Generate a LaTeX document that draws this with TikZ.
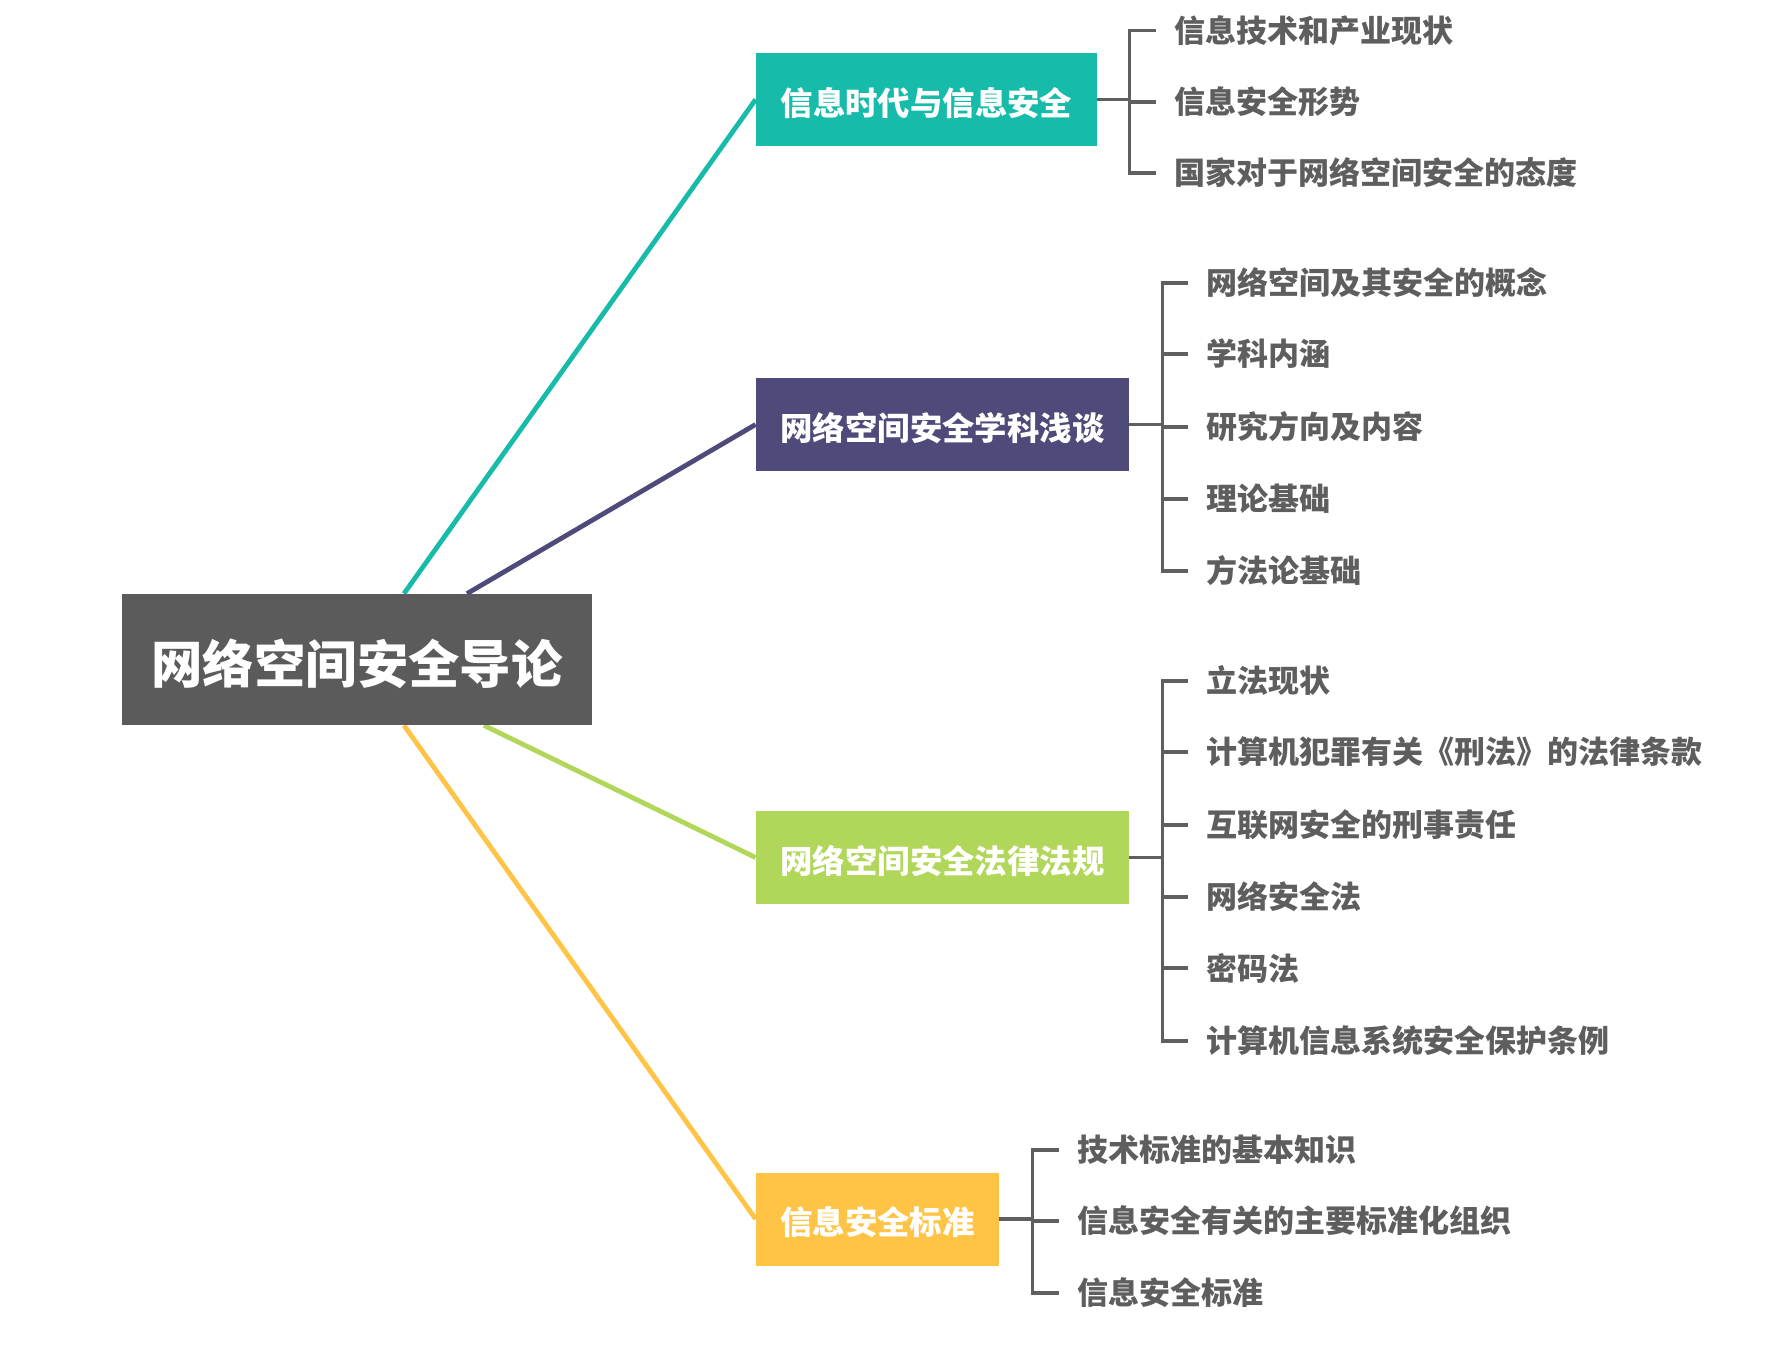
\documentclass[tikz,border=0pt]{standalone}
\usepackage{fontspec}
\setmainfont{Noto Sans CJK SC}
\usetikzlibrary{calc}
\definecolor{cteal}{HTML}{17BBAA}
\definecolor{cpurple}{HTML}{4E4A7A}
\definecolor{cgreen}{HTML}{B1D75A}
\definecolor{cyellow}{HTML}{FFC445}
\definecolor{croot}{HTML}{5B5B5B}
\definecolor{ctext}{HTML}{5E5E5E}
\definecolor{cline}{HTML}{5F5F5F}
\tikzset{
  rootbox/.style={rectangle, fill=croot, text=white, inner sep=0pt,
    minimum width=235pt, minimum height=65.5pt, text height=24pt, text depth=0pt,
    font=\fontsize{25.7}{30}\selectfont\bfseries},
  topicbox/.style={rectangle, text=white, inner sep=0pt, minimum height=46.5pt,
    text height=15.8pt, text depth=0pt,
    font=\fontsize{16.2}{19}\selectfont\bfseries},
  leaf/.style={anchor=west, inner sep=0pt, text=ctext,
    font=\fontsize{15.5}{18}\selectfont\bfseries},
  link/.style={line width=2.4pt},
  br/.style={draw=cline, line width=1.9pt},
}
\begin{document}
\begin{tikzpicture}[x=0.5pt,y=-0.5pt]
\useasboundingbox (0,0) rectangle (1774,1355);
\fill[white] (0,0) rectangle (1774,1355);

% root
\node[rootbox] (root) at (357,659.5) {网络空间安全导论};

% topics
\node[topicbox, fill=cteal, minimum width=170.5pt] (t1) at (926.5,99.5) {信息时代与信息安全};
\node[topicbox, fill=cpurple, minimum width=186.5pt] (t2) at (942.5,424.5) {网络空间安全学科浅谈};
\node[topicbox, fill=cgreen, minimum width=186.5pt] (t3) at (942.5,857.5) {网络空间安全法律法规};
\node[topicbox, fill=cyellow, minimum width=121.5pt] (t4) at (877.5,1219) {信息安全标准};

% connectors from root
\draw[link, cteal] ([xshift=23.5pt]root.north) -- (t1.west);
\draw[link, cpurple] ([xshift=55pt]root.north) -- (t2.west);
\draw[link, cgreen] ([xshift=63.5pt]root.south) -- (t3.west);
\draw[link, cyellow] ([xshift=23.5pt]root.south) -- (t4.west);
\node[rootbox] (rootcover) at (root) {网络空间安全导论};

% leaves topic 1
\node[leaf] (a1) at (1174,30.5) {信息技术和产业现状};
\node[leaf] (a2) at (1174,102) {信息安全形势};
\node[leaf] (a3) at (1174,173) {国家对于网络空间安全的态度};
\coordinate (k1) at ([xshift=16pt]t1.east);
\draw[br] (t1.east) -- (k1);
\foreach \c in {a1,a2,a3} \draw[br] (k1) |- ([xshift=-9pt]\c.west);

% leaves topic 2
\node[leaf] (b1) at (1206,283) {网络空间及其安全的概念};
\node[leaf] (b2) at (1206,354) {学科内涵};
\node[leaf] (b3) at (1206,427) {研究方向及内容};
\node[leaf] (b4) at (1206,499) {理论基础};
\node[leaf] (b5) at (1206,571) {方法论基础};
\coordinate (k2) at ([xshift=16.5pt]t2.east);
\draw[br] (t2.east) -- (k2);
\foreach \c in {b1,b2,b3,b4,b5} \draw[br] (k2) |- ([xshift=-9pt]\c.west);

% leaves topic 3
\node[leaf] (c1) at (1206,681) {立法现状};
\node[leaf] (c2) at (1206,752) {计算机犯罪有关《刑法》的法律条款};
\node[leaf] (c3) at (1206,825) {互联网安全的刑事责任};
\node[leaf] (c4) at (1206,897) {网络安全法};
\node[leaf] (c5) at (1206,968) {密码法};
\node[leaf] (c6) at (1206,1041) {计算机信息系统安全保护条例};
\coordinate (k3) at ([xshift=16.5pt]t3.east);
\draw[br] (t3.east) -- (k3);
\foreach \c in {c1,c2,c3,c4,c5,c6} \draw[br] (k3) |- ([xshift=-9pt]\c.west);

% leaves topic 4
\node[leaf] (d1) at (1077,1150) {技术标准的基本知识};
\node[leaf] (d2) at (1077,1221) {信息安全有关的主要标准化组织};
\node[leaf] (d3) at (1077,1293) {信息安全标准};
\coordinate (k4) at ([xshift=16.5pt]t4.east);
\draw[br] (t4.east) -- (k4);
\foreach \c in {d1,d2,d3} \draw[br] (k4) |- ([xshift=-9pt]\c.west);
\end{tikzpicture}
\end{document}
